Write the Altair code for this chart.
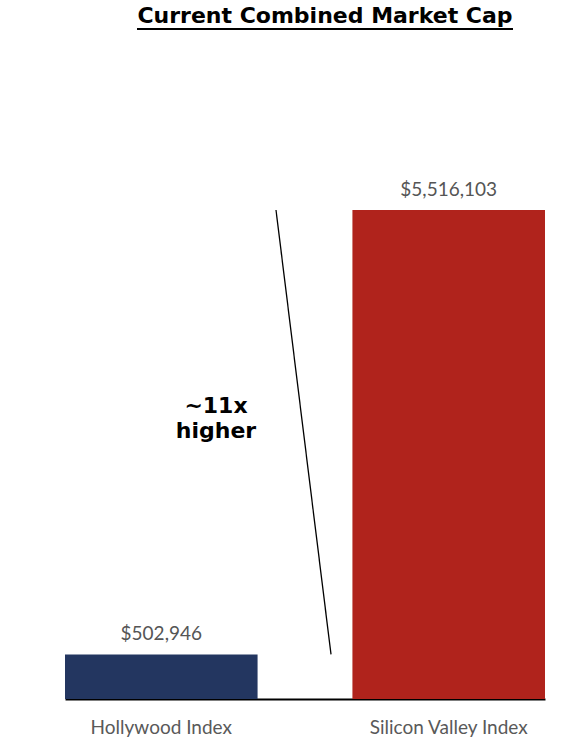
import altair as alt
import pandas as pd

categories = ["Hollywood Index", "Silicon Valley Index"]
values = [502946, 5516103]
value_labels = ["$502,946", "$5,516,103"]
colors = ["#233660", "#b0231c"]

title_text = "Current Combined Market Cap"
note_text = ["~11x", "higher"]

df = pd.DataFrame({"cat": categories, "val": values, "lab": value_labels})

W, H = 560, 699
FONT = "Lato"
BOLD = "DejaVu Sans"

x = alt.X("cat:N", sort=categories,
          scale=alt.Scale(range=[49, 529], paddingInner=0.33, paddingOuter=0),
          axis=alt.Axis(title=None, labelAngle=0, ticks=False, domainColor="black",
                        domainWidth=2, labelFont=FONT, labelFontSize=19,
                        labelColor="#595959", labelPadding=19))
y = alt.Y("val:Q", scale=alt.Scale(domain=[0, 7885000], nice=False), axis=None)

bars = alt.Chart(df).mark_bar().encode(
    x=x, y=y,
    color=alt.Color("cat:N", scale=alt.Scale(domain=categories, range=colors), legend=None),
)

labels = alt.Chart(df).mark_text(font=FONT, fontSize=19, color="#555555",
                                 baseline="alphabetic", dy=-14).encode(
    x=alt.X("cat:N", sort=categories), y="val:Q", text="lab:N")

line_df = pd.DataFrame({"y1": [values[1]], "y2": [values[0]]})
diag = alt.Chart(line_df).mark_rule(color="black", strokeWidth=1.3).encode(
    x=alt.value(260), x2=alt.value(315),
    y=alt.Y("y1:Q"), y2="y2:Q")

note = alt.Chart(pd.DataFrame({"t": [note_text]})).mark_text(
    font=BOLD, fontWeight="bold", fontSize=22, color="black",
    lineHeight=25, baseline="alphabetic", align="center").encode(
    x=alt.value(200), y=alt.value(413), text="t")

title = alt.Chart(pd.DataFrame({"t": [title_text]})).mark_text(
    font=BOLD, fontWeight="bold", fontSize=22, color="black",
    baseline="alphabetic", align="center").encode(
    x=alt.value(309), y=alt.value(23), text="t")

underline = alt.Chart(pd.DataFrame({"a": [0]})).mark_rule(color="black", strokeWidth=2).encode(
    x=alt.value(121), x2=alt.value(497), y=alt.value(29))

chart = alt.layer(bars, labels, diag, note, title, underline).resolve_scale(
    color="independent").properties(
    width=W, height=H,
    padding={"left": 16, "top": 0, "right": 0, "bottom": 40},
    autosize=alt.AutoSizeParams(type="none"),
    background="white",
).configure_view(stroke=None)

chart.save("out.html", embed_options={"renderer": "svg", "actions": False})
